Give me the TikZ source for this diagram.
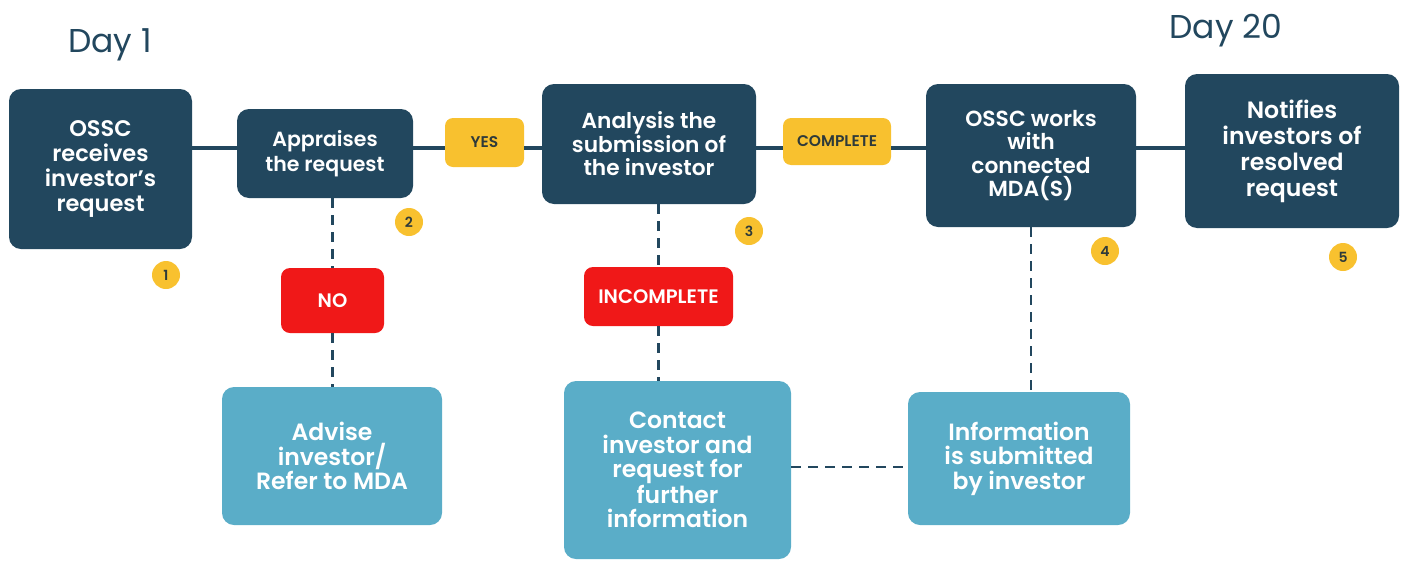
\documentclass[tikz,border=0pt]{standalone}
\usepackage{fontspec}
\setmainfont{Poppins}[UprightFont=*-Regular,BoldFont=*-SemiBold]
\definecolor{navy}{HTML}{22475E}
\definecolor{sky}{HTML}{5AADC8}
\definecolor{amber}{HTML}{F8C12F}
\definecolor{alert}{HTML}{F01818}
\definecolor{ink}{HTML}{2E3A3A}
\newcommand{\fs}[2]{\fontsize{#1}{#2}\selectfont}
\tikzset{
  darkbox/.style={fill=navy, rounded corners=12pt, text=white, align=center, inner sep=0pt},
  lightbox/.style={fill=sky, rounded corners=12pt, text=white, font=\bfseries\fs{23.5}{24.5}, align=center, inner sep=0pt},
  tagyes/.style={fill=amber, rounded corners=8pt, text=ink, font=\bfseries\fs{15.5}{15.5}, inner sep=0pt},
  tagno/.style={fill=alert, rounded corners=9pt, text=white, font=\bfseries\fs{19.5}{19.5}, inner sep=0pt},
  badge/.style={circle, fill=amber, text=ink, minimum size=28pt, inner sep=0pt, font=\bfseries\fs{14}{14}},
  flow/.style={draw=navy, line width=3.5pt},
  branch/.style={draw=navy, line width=2.2pt, dash pattern=on 10pt off 7pt},
  daylabel/.style={text=navy, font=\fs{33}{33}}
}
\begin{document}
\begin{tikzpicture}[x=1pt,y=-1pt]
\useasboundingbox (0,0) rectangle (1402,560);

% main steps
\node[darkbox, font=\bfseries\fs{22.5}{25}, minimum width=183pt, minimum height=160pt] (s1) at (100.5,169) {OSSC\\receives\\investor’s\\request};
\node[darkbox, font=\bfseries\fs{20.5}{24.5}, minimum width=176pt, minimum height=89pt] (s2) at (325,153.5) {Appraises\\the request};
\node[darkbox, font=\bfseries\fs{21.7}{23.5}, minimum width=214pt, minimum height=120pt] (s3) at (649,144) {Analysis the\\submission of\\the investor};
\node[darkbox, font=\bfseries\fs{21.8}{23.5}, minimum width=210pt, minimum height=143pt] (s4) at (1031,155.5) {OSSC works\\with\\connected\\MDA(S)};
\node[darkbox, font=\bfseries\fs{23.6}{26}, minimum width=214pt, minimum height=154pt] (s5) at (1292,151) {Notifies\\investors of\\resolved\\request};

% decision tags
\node[tagyes, minimum width=79pt, minimum height=49pt] (yes) at (484.5,142.5) {YES};
\node[tagyes, minimum width=108pt, minimum height=47pt] (complete) at (837,141.5) {COMPLETE};
\node[tagno, minimum width=103pt, minimum height=65pt] (no) at (332.5,300.5) {NO};
\node[tagno, minimum width=149pt, minimum height=59pt] (incomplete) at (658.5,296.5) {INCOMPLETE};

% side outcomes
\node[lightbox, minimum width=220pt, minimum height=138pt] (advise) at (332,456) {Advise\\investor/\\Refer to MDA};
\node[lightbox, minimum width=227pt, minimum height=178pt] (contact) at (677.5,470) {Contact\\investor and\\request for\\further\\information};
\node[lightbox, minimum width=222pt, minimum height=133pt] (info) at (1019,458.5) {Information\\is submitted\\by investor};

% day markers
\node[daylabel] (d1) at (110,45) {Day 1};
\node[daylabel] (d20) at (1226,31) {Day 20};

% step numbers
\node[badge] (n1) at (166,275) {1};
\node[badge] (n2) at (409,222) {2};
\node[badge] (n3) at (749,231) {3};
\node[badge] (n4) at (1105,251) {4};
\node[badge] (n5) at (1343,257) {5};

% main flow
\draw[flow] (s1.east |- 0,148) -- (s2.west |- 0,148);
\draw[flow] (s2.east |- 0,148) -- (yes.west |- 0,148);
\draw[flow] (yes.east |- 0,148) -- (s3.west |- 0,148);
\draw[flow] (s3.east |- 0,148) -- (complete.west |- 0,148);
\draw[flow] (complete.east |- 0,148) -- (s4.west |- 0,148);
\draw[flow] (s4.east |- 0,148) -- (s5.west |- 0,148);

% branches
\draw[branch] (s2.south -| no.north) -- (no.north);
\draw[branch] (no.south) -- (advise.north -| no.south);
\draw[branch] (s3.south -| incomplete.north) -- (incomplete.north);
\draw[branch] (incomplete.south) -- (contact.north -| incomplete.south);
\draw[branch] (s4.south) -- (info.north -| s4.south);
\draw[branch] (contact.east |- 0,467) -- (info.west |- 0,467);
\end{tikzpicture}
\end{document}
